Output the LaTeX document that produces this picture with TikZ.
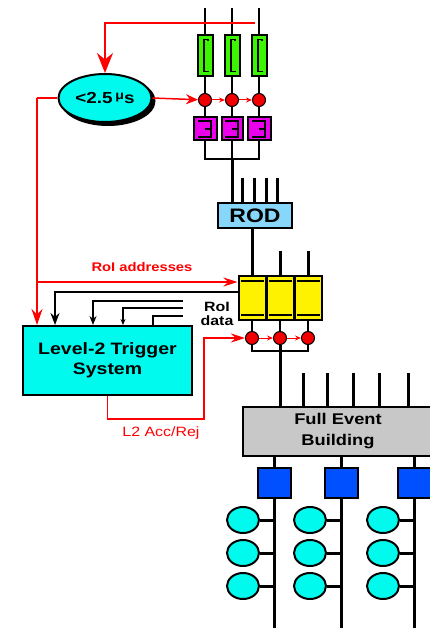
\documentclass[tikz,border=0pt]{standalone}
\usepackage{fontspec}
\setmainfont[FakeStretch=1.18]{Liberation Sans}
\usetikzlibrary{positioning, arrows.meta, shapes.geometric, shadows}

\definecolor{timercyan}{RGB}{0,250,238}
\definecolor{lvlgreen}{RGB}{60,245,0}
\definecolor{pipemag}{RGB}{235,0,235}
\definecolor{rodblue}{RGB}{135,215,250}
\definecolor{febgray}{RGB}{200,200,200}
\definecolor{sfiblue}{RGB}{0,80,255}
\definecolor{tapred}{RGB}{240,0,0}

\begin{document}
\begin{tikzpicture}[x=1pt, y=-1pt, >=Stealth,
    wire/.style={draw=black, line width=1.3pt},
    datawire/.style={draw=black, line width=1.8pt},
    bus/.style={draw=black, line width=3pt},
    trig/.style={draw=red, line width=1.5pt},
    box/.style={rectangle, draw=black, line width=2pt, inner sep=0pt, font=\bfseries},
    tap/.style={circle, draw=black, fill=tapred, line width=1pt, minimum size=13pt, inner sep=0pt},
    pc/.style={ellipse, draw=black, fill=timercyan, line width=2pt, minimum width=32pt, minimum height=26pt, inner sep=0pt},
    lbl/.style={inner sep=0pt, align=center, font=\bfseries\fontsize{13.5}{14}\selectfont}
]
    \useasboundingbox (0,0) rectangle (430,628);
    \clip (0,0) rectangle (430,628);

    % Level-1 timing and pipelines
    \node[ellipse, draw=black, fill=timercyan, line width=2pt, minimum width=84pt, minimum height=48pt,
          copy shadow={shadow xshift=3pt, shadow yshift=-3pt, fill=black, draw=black},
          font=\bfseries\fontsize{16}{18}\selectfont] (timer) at (105,98)
          {<2.5\,\raisebox{4pt}{\fontsize{12}{12}\selectfont μ}s};

    \node[box, fill=lvlgreen, minimum width=15pt, minimum height=41pt] (g1) at (205,56) {};
    \node[box, fill=lvlgreen, minimum width=15pt, minimum height=41pt] (g2) at (232,56) {};
    \node[box, fill=lvlgreen, minimum width=15pt, minimum height=41pt] (g3) at (259,56) {};

    \node[tap] (c1) at (205,100) {};
    \node[tap] (c2) at (232,100) {};
    \node[tap] (c3) at (259,100) {};

    \node[box, fill=pipemag, minimum width=23pt, minimum height=23pt] (m1) at (205,129) {};
    \node[box, fill=pipemag, minimum width=21pt, minimum height=23pt] (m2) at (232,129) {};
    \node[box, fill=pipemag, minimum width=23pt, minimum height=23pt] (m3) at (259,129) {};

    \foreach \n in {1,2,3} {
        \coordinate (t\n) at (g\n.north |- 0,8);
        \draw[wire] (t\n) -- (g\n.north);
        \draw[wire] (g\n.south) -- (c\n);
        \draw[wire] (c\n) -- (m\n.north);
        % glyphs
        \draw[line width=1.5pt] ([xshift=-1pt,yshift=-5pt]g\n.north) -- ++(4pt,0) -- ++(0,-2pt)
            ([xshift=-1pt,yshift=-5pt]g\n.north) -- ([xshift=-1pt,yshift=6pt]g\n.south) -- ++(5pt,0);
        \draw[line width=1.8pt] ([xshift=-7pt,yshift=-4.5pt]m\n.north) -- ([xshift=6pt,yshift=-4.5pt]m\n.north)
            -- ([xshift=6pt,yshift=4.5pt]m\n.south) -- ([xshift=-7pt,yshift=4.5pt]m\n.south)
            (m\n.center) -- ([xshift=6pt]m\n.center);
    }

    \draw[trig, -{Stealth[length=6pt,width=5pt]}, line width=1pt] (c1) -- (c2);
    \draw[trig, -{Stealth[length=6pt,width=5pt]}, line width=1pt] (c2) -- (c3);

    % readout driver
    \node[box, fill=rodblue, minimum width=74pt, minimum height=25pt,
          font=\bfseries\fontsize{19.5}{19.5}\selectfont] (rod) at (255,215.5) {\raisebox{-3pt}{ROD}};
    \coordinate (mbar) at (232,159);
    \draw[wire] (m1.south) |- (mbar) -| (m3.south);
    \draw[wire] (m2.south) -- (mbar);
    \draw[bus] (mbar) -- (mbar |- rod.north);
    \foreach \x in {242,254,266,277} {
        \coordinate (in\x) at (\x,178);
        \draw[bus] (in\x) -- (in\x |- rod.north);
    }

    % readout buffers
    \node[box, fill=yellow, minimum width=27pt, minimum height=44pt] (y1) at (252,298) {};
    \node[box, fill=yellow, minimum width=27pt, minimum height=44pt] (y2) at (280,298) {};
    \node[box, fill=yellow, minimum width=27pt, minimum height=44pt] (y3) at (308,298) {};
    \draw[bus] (y1.north |- rod.south) -- (y1.north);
    \foreach \n in {1,2,3} {
        \draw[line width=1.2pt] ([xshift=3pt,yshift=-6pt]y\n.north west) -- ([xshift=-3pt,yshift=-6pt]y\n.north east);
        \draw[line width=1.2pt] ([xshift=3pt,yshift=6pt]y\n.south west) -- ([xshift=-3pt,yshift=6pt]y\n.south east);
        \node[tap] (r\n) at (y\n.center |- 0,338) {};
        \draw[datawire] (y\n.south) -- (r\n);
    }
    \foreach \n in {2,3} {
        \coordinate (yin\n) at (y\n.north |- 0,251);
        \draw[bus] (yin\n) -- (y\n.north);
    }
    \draw[trig, -{Stealth[length=6pt,width=5pt]}, line width=1pt] (r1) -- (r2);
    \draw[trig, -{Stealth[length=6pt,width=5pt]}, line width=1pt] (r2) -- (r3);

    % event building
    \node[box, fill=febgray, minimum width=190pt, minimum height=49pt, align=center,
          font=\bfseries\fontsize{15.5}{21}\selectfont] (feb) at (338,431.5) {Full Event\\Building};
    \coordinate (rbar) at (280,351);
    \draw[datawire] (r1.south) |- (rbar) -| (r3.south);
    \draw[bus] (r2.south) -- (rbar) -- (rbar |- feb.north);
    \foreach \x in {303,327,353,379,408} {
        \coordinate (fin\x) at (\x,373);
        \draw[bus] (fin\x) -- (fin\x |- feb.north);
    }

    \node[box, fill=sfiblue, minimum width=33pt, minimum height=30pt] (b1) at (274,483) {};
    \node[box, fill=sfiblue, minimum width=33pt, minimum height=30pt] (b2) at (341,483) {};
    \node[box, fill=sfiblue, minimum width=33pt, minimum height=30pt] (b3) at (414,483) {};
    \foreach \n in {1,2,3} {
        \coordinate (bot\n) at (b\n.south |- 0,632);
        \draw[bus] (b\n.north |- feb.south) -- (b\n.north);
        \draw[bus] (b\n.south) -- (bot\n);
        \foreach \y in {520,553,586} {
            \path (b\n.center |- 0,\y) ++(-31pt,0) node[pc] (p\n-\y) {};
            \draw[bus] (p\n-\y.east) -- (b\n.center |- p\n-\y.east);
        }
    }

    % Level-2 trigger
    \node[box, fill=timercyan, minimum width=169pt, minimum height=69pt, align=center,
          font=\bfseries\fontsize{16.5}{20}\selectfont] (lvl2) at (107.5,360.5) {Level-2 Trigger\\System};

    % trigger signals
    \coordinate (fb) at (255,23);
    \draw[trig, -{Stealth[length=20pt,width=16pt]}] (fb) -| (timer.north);
    \draw[trig, -{Stealth[length=12pt,width=10pt]}] (timer.east) -- (c1);
    \coordinate (lft) at (37,98);
    \draw[trig] (timer.west) -- (lft);
    \draw[trig, -{Stealth[length=16pt,width=11pt]}] (lft) -- (lft |- lvl2.north);
    \coordinate (roia) at ([yshift=-7pt]y1.north west);
    \draw[trig, -{Stealth[length=14pt,width=9pt]}] (lft |- roia) -- (roia);
    \node[lbl, text=red, font=\bfseries\fontsize{12.5}{15}\selectfont] (roilbl) at (142,267) {RoI addresses};

    \coordinate (accr) at (204,419);
    \draw[trig, -{Stealth[length=14pt,width=9pt]}] (lvl2.south) |- (accr) |- (r1);
    \node[inner sep=0pt, text=red, font=\fontsize{13.5}{15}\selectfont] (acclbl) at (161,433) {L2 Acc/Rej};

    % RoI data to Level-2
    \coordinate (rd0) at ([yshift=-17pt]y1.north west);
    \coordinate (rd1) at (183,301);
    \coordinate (rd2) at (183,308);
    \coordinate (rd3) at (183,316);
    \draw[datawire, -{Stealth[length=12pt,width=9pt]}] (rd0) -| ([xshift=-52.5pt]lvl2.north);
    \draw[datawire, -{Stealth[length=9pt,width=7pt]}] (rd1) -| ([xshift=-14.5pt]lvl2.north);
    \draw[datawire, -{Stealth[length=6pt,width=5pt]}] (rd2) -| ([xshift=15.5pt]lvl2.north);
    \draw[datawire] (rd3) -| ([xshift=45.5pt]lvl2.north);
    \node[lbl] (roidata) at (217,314) {RoI\\data};
\end{tikzpicture}
\end{document}
